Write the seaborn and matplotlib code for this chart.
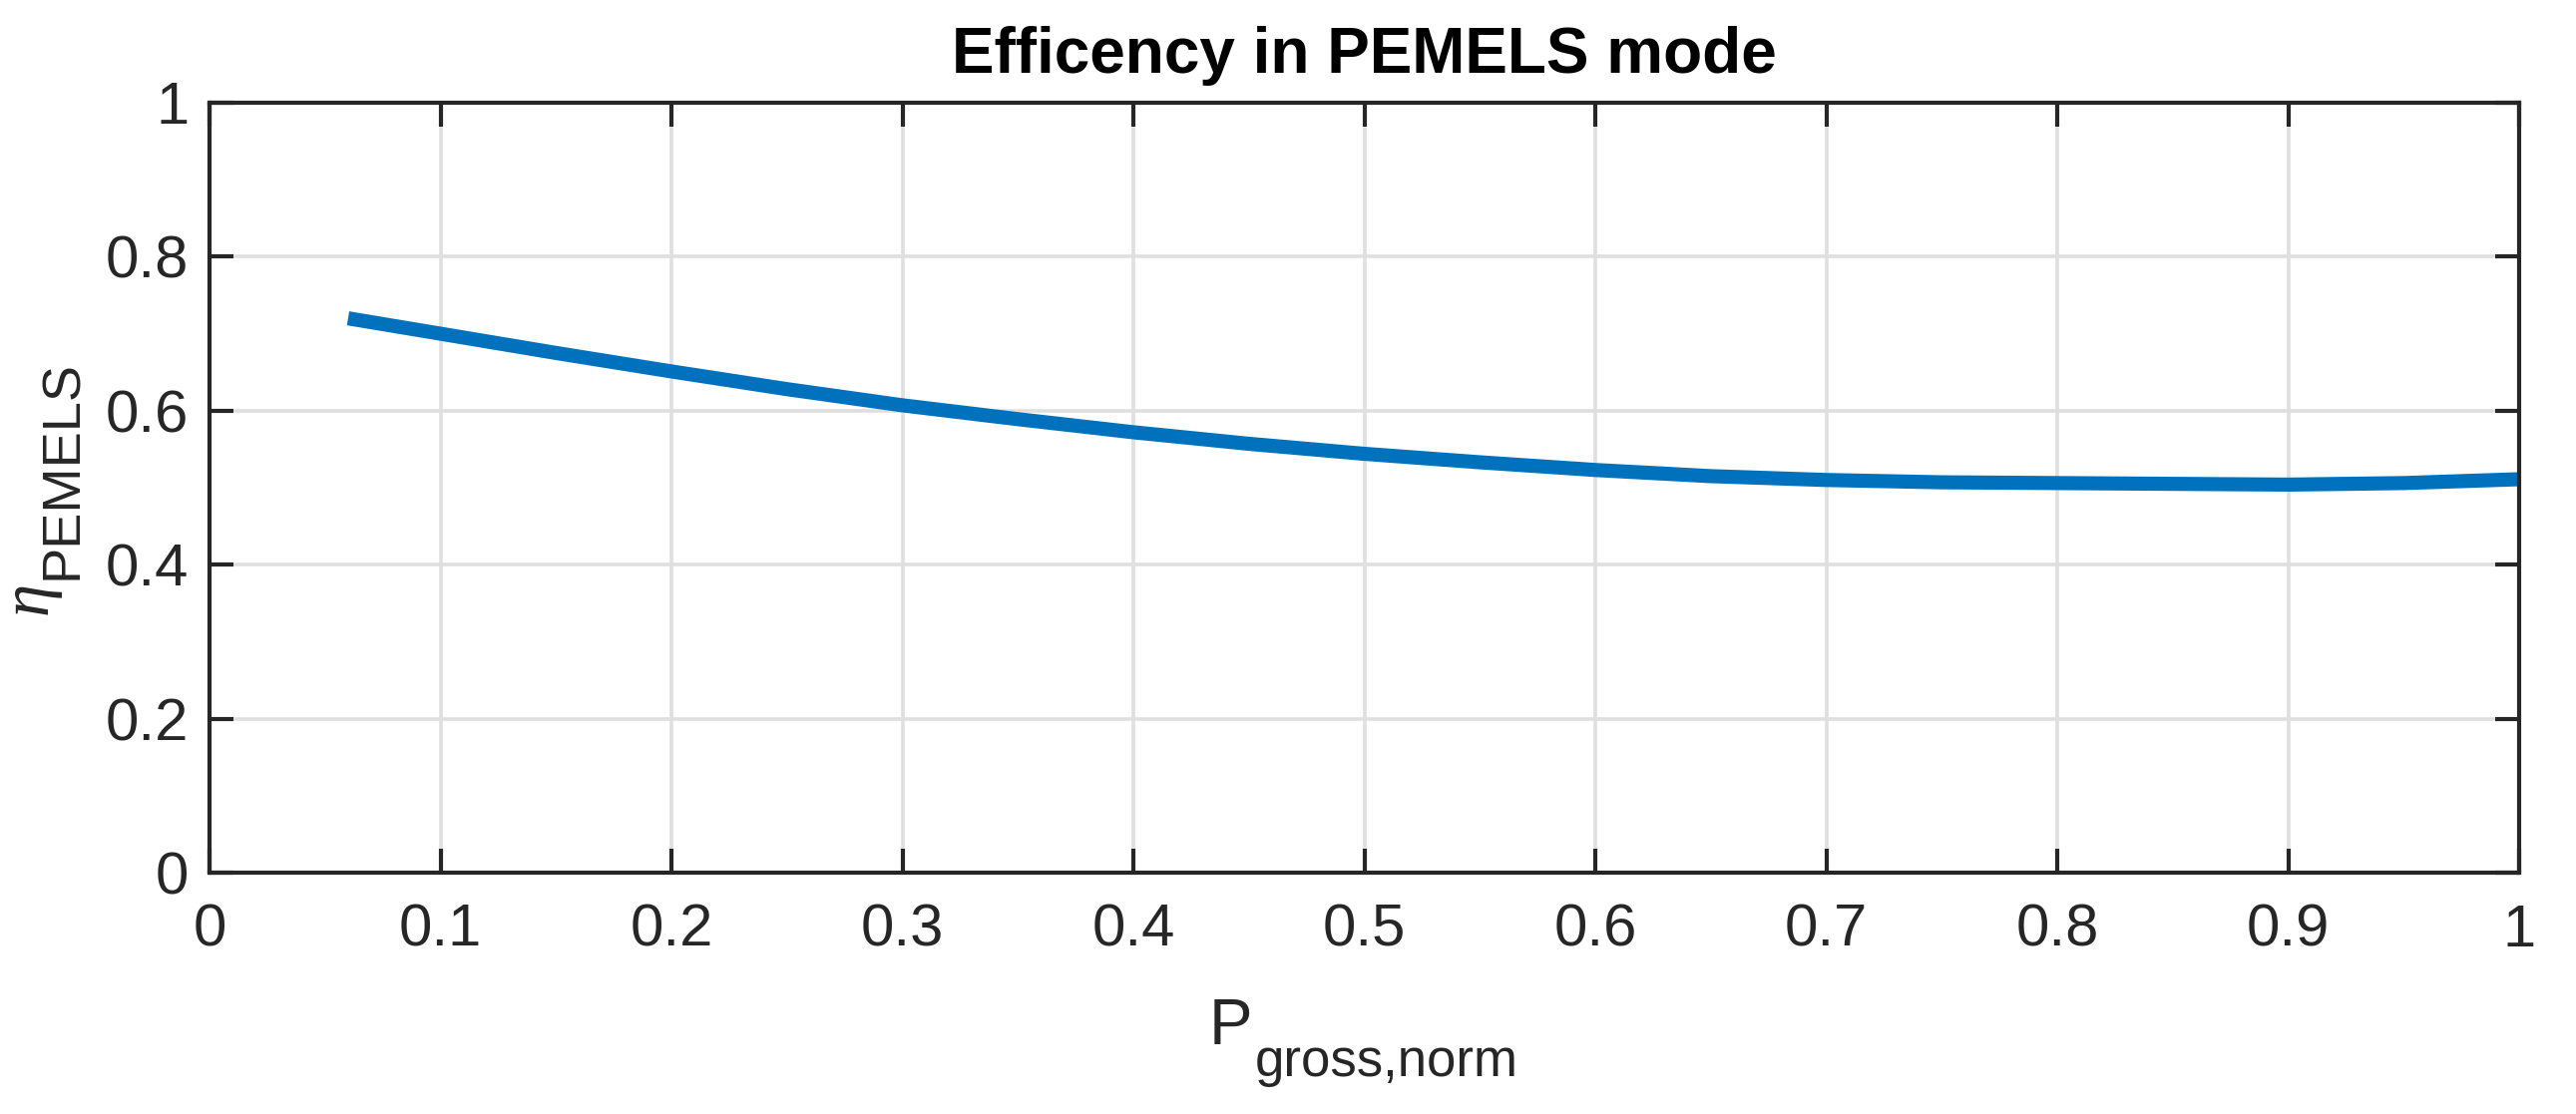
import numpy as np
import pandas as pd
import matplotlib
matplotlib.use("Agg")
import matplotlib.pyplot as plt
import seaborn as sns

# values
p_gross_norm = [0.06, 0.1, 0.15, 0.2, 0.25, 0.3, 0.35, 0.4, 0.45, 0.5, 0.55,
                0.6, 0.65, 0.7, 0.75, 0.8, 0.85, 0.9, 0.95, 1.0]
eta_pemels = [0.720, 0.700, 0.675, 0.651, 0.628, 0.607, 0.589, 0.572, 0.557, 0.544, 0.533,
              0.523, 0.515, 0.510, 0.507, 0.506, 0.505, 0.504, 0.506, 0.511]

x_ticks = [0, 0.1, 0.2, 0.3, 0.4, 0.5, 0.6, 0.7, 0.8, 0.9, 1]
x_tick_labels = ['0', '0.1', '0.2', '0.3', '0.4', '0.5', '0.6', '0.7', '0.8', '0.9', '1']
y_ticks = [0, 0.2, 0.4, 0.6, 0.8, 1]
y_tick_labels = ['0', '0.2', '0.4', '0.6', '0.8', '1']

title = 'Efficency in PEMELS mode'

df = pd.DataFrame({'P': p_gross_norm, 'eta': eta_pemels})

sns.set_style('white')
plt.rcParams['font.family'] = ['Liberation Sans', 'DejaVu Sans']

W, H = 2582, 1117
fig = plt.figure(figsize=(W / 100, H / 100), dpi=100)
ax = fig.add_axes([210 / W, 1 - 875 / H, 2315 / W, 772 / H])

def px(x, y):
    # pixel position (from top-left) -> figure fraction
    return x / W, 1 - y / H

sns.lineplot(data=df, x='P', y='eta', ax=ax, color='#0072BD', linewidth=10.2)
for ln in ax.lines:
    ln.set_solid_capstyle('butt')

ax.set_xlim(0, 1)
ax.set_ylim(0, 1)
ax.set_xticks(x_ticks)
ax.set_xticklabels(x_tick_labels)
ax.set_yticks(y_ticks)
ax.set_yticklabels(y_tick_labels)

ax.grid(True, color='#dfdfdf', linewidth=2.6)
ax.set_axisbelow(True)
for s in ax.spines.values():
    s.set_visible(True)
    s.set_color('#262626')
    s.set_linewidth(3.0)

ax.tick_params(axis='both', which='both', direction='in', length=17, width=3.0,
               color='#262626', labelcolor='#262626', labelsize=43,
               top=True, right=True, bottom=True, left=True)
ax.tick_params(axis='x', pad=22)
ax.tick_params(axis='y', pad=15)
ax.set_xlabel('')
ax.set_ylabel('')

# title
fig.text(*px(1367, 73), title, ha='center', va='baseline', fontsize=46,
         fontweight='bold', color='black')

# x label: P with subscript
fig.text(*px(1212, 1047), 'P', ha='left', va='baseline', fontsize=47, color='#262626')
fig.text(*px(1258, 1079), 'gross,norm', ha='left', va='baseline', fontsize=38, color='#262626')

# y label: eta with subscript, rotated
fig.text(*px(47, 616), '\u03b7', ha='left', va='baseline', rotation=90,
         rotation_mode='anchor', fontsize=48, fontstyle='italic',
         family=['Liberation Serif', 'DejaVu Serif'], color='#262626')
fig.text(*px(77, 581), 'PEMELS', ha='left', va='baseline', rotation=90,
         rotation_mode='anchor', fontsize=39, color='#262626')

fig.savefig('out.png', dpi=100, facecolor='white')
